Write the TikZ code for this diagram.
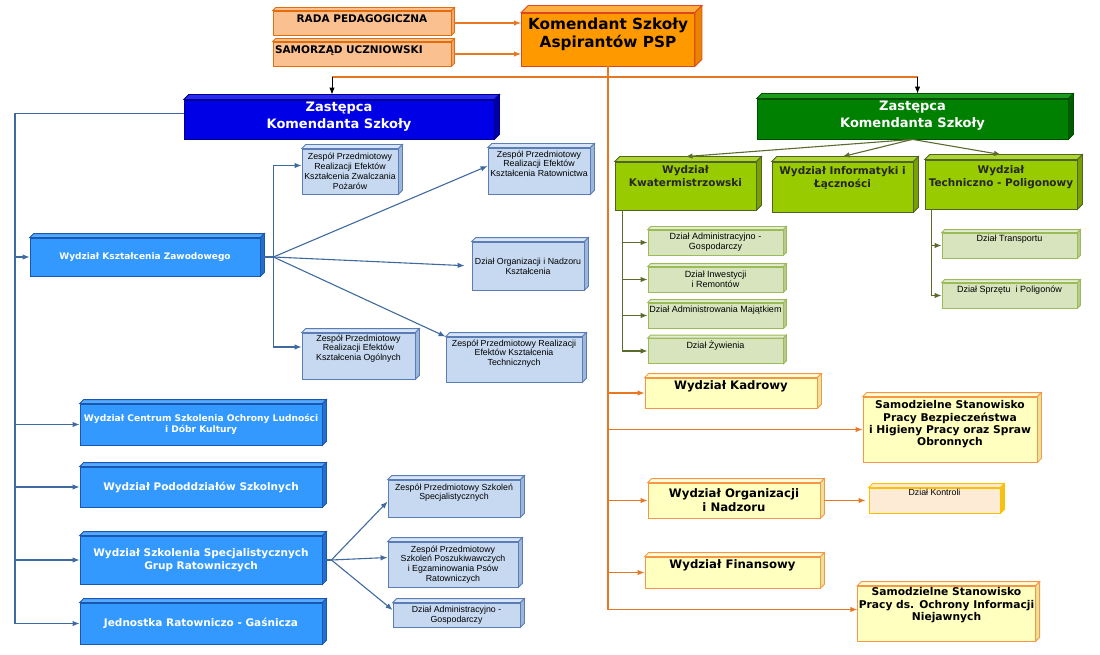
\documentclass[tikz,border=0pt]{standalone}
\usepackage{fontspec}
\setmainfont{DejaVu Sans}
\newfontfamily\opis{Liberation Sans}
\usetikzlibrary{arrows.meta}

\definecolor{pomFill}{HTML}{FF9900}
\definecolor{pomTop}{HTML}{FFAE40}
\definecolor{pomSide}{HTML}{E88400}
\definecolor{pomEdge}{HTML}{E0461E}
\definecolor{radaFill}{HTML}{FAC090}
\definecolor{radaSide}{HTML}{F2A66E}
\definecolor{radaEdge}{HTML}{E46C0A}
\definecolor{granFill}{HTML}{0000E6}
\definecolor{granTop}{HTML}{2A2AF2}
\definecolor{granSide}{HTML}{0000A8}
\definecolor{granEdge}{HTML}{00008C}
\definecolor{niebFill}{HTML}{3399FF}
\definecolor{niebTop}{HTML}{55AAFF}
\definecolor{niebSide}{HTML}{2270D2}
\definecolor{niebEdge}{HTML}{1A58B0}
\definecolor{jnFill}{HTML}{C6D9F1}
\definecolor{jnTop}{HTML}{D8E5F6}
\definecolor{jnSide}{HTML}{9DB7DC}
\definecolor{jnEdge}{HTML}{5B7DB5}
\definecolor{zielFill}{HTML}{008000}
\definecolor{zielTop}{HTML}{1E9A1E}
\definecolor{zielSide}{HTML}{005C00}
\definecolor{zielEdge}{HTML}{005000}
\definecolor{zjFill}{HTML}{99CC00}
\definecolor{zjTop}{HTML}{AED62E}
\definecolor{zjSide}{HTML}{77A000}
\definecolor{zjEdge}{HTML}{4F6228}
\definecolor{zsFill}{HTML}{D7E4BD}
\definecolor{zsTop}{HTML}{E4EDD0}
\definecolor{zsSide}{HTML}{B8CB8C}
\definecolor{zsEdge}{HTML}{9BBB59}
\definecolor{zoFill}{HTML}{FFFFC0}
\definecolor{zoTop}{HTML}{FFFFD8}
\definecolor{zoSide}{HTML}{E8E29A}
\definecolor{zoEdge}{HTML}{F79646}
\definecolor{kFill}{HTML}{FDEBD6}
\definecolor{kSide}{HTML}{F2C21A}
\definecolor{kEdge}{HTML}{FFC000}
\definecolor{linNieb}{HTML}{3F6AA0}
\definecolor{linOr}{HTML}{E87722}
\definecolor{linZiel}{HTML}{5B6B2D}

% boki bryly: wezel, glebokosc, gora, bok, krawedz
\newcommand{\bok}[5]{%
  \filldraw[fill=#3,draw=#5,line width=0.8pt] (#1.north west) -- ++(#2,#2) -- ([shift={(#2,#2)}]#1.north east) -- (#1.north east) -- cycle;
  \filldraw[fill=#4,draw=#5,line width=0.8pt] (#1.north east) -- ++(#2,#2) -- ([shift={(#2,#2)}]#1.south east) -- (#1.south east) -- cycle;}

\tikzset{
  kloc/.style={draw, line width=0.8pt, inner sep=1pt, align=center},
  wym/.style 2 args={minimum width=#1, minimum height=#2},
  lift/.style={text depth=#1},
  rada/.style={kloc, fill=radaFill, draw=radaEdge, font=\bfseries\fontsize{10.5}{12}\selectfont},
  szef/.style={kloc, fill=pomFill, draw=pomEdge, font=\bfseries\fontsize{15.3}{18}\selectfont},
  zastL/.style={kloc, fill=granFill, draw=granEdge, text=white, font=\bfseries\fontsize{13}{17}\selectfont},
  zastP/.style={kloc, fill=zielFill, draw=zielEdge, text=white, font=\bfseries\fontsize{13}{17}\selectfont},
  wydzN/.style={kloc, fill=niebFill, draw=niebEdge, text=white, font=\bfseries\fontsize{10.5}{12.7}\selectfont},
  zespN/.style={kloc, fill=jnFill, draw=jnEdge, font=\opis\fontsize{8.8}{9.8}\selectfont},
  wydzZ/.style={kloc, fill=zjFill, draw=zjEdge, text=black!85, font=\bfseries\fontsize{10.5}{12.7}\selectfont},
  dzialZ/.style={kloc, fill=zsFill, draw=zsEdge, font=\opis\fontsize{9}{10}\selectfont},
  wydzO/.style={kloc, fill=zoFill, draw=zoEdge, font=\bfseries\fontsize{11.7}{14}\selectfont},
  samO/.style={kloc, fill=zoFill, draw=zoEdge, font=\bfseries\fontsize{10.7}{12.4}\selectfont},
  kontrola/.style={kloc, fill=kFill, draw=kEdge, font=\opis\fontsize{8.8}{10}\selectfont}
}

\begin{document}
\begin{tikzpicture}[x=1pt,y=-1pt,
    oline/.style={draw=linOr, line width=1.3pt},
    oarr/.style={oline, -{Latex[length=7pt,width=5.5pt]}},
    bline/.style={draw=linNieb, line width=1.1pt},
    barr/.style={bline, -{Latex[length=7pt,width=5.5pt]}},
    garr/.style={draw=linZiel, line width=1.1pt, -{Latex[length=7pt,width=5.5pt]}},
    karr/.style={draw=black, line width=0.9pt, -{Latex[length=7pt,width=5.5pt]}}]
\useasboundingbox (0,0) rectangle (1100,655);

% gora
\node[rada, wym={178}{24}, lift=8.5pt] (rada) at (362,23) {RADA PEDAGOGICZNA};
\node[rada, wym={178}{24}, lift=8.5pt, text width=174pt, align=left] (samorzad) at (362,54) {SAMORZĄD UCZNIOWSKI};
\node[szef, wym={173}{53}, lift=13.5pt] (kom) at (608,39.5) {Komendant Szkoły\\Aspirantów PSP};
\bok{rada}{3pt}{radaFill}{radaSide}{radaEdge}
\bok{samorzad}{3pt}{radaFill}{radaSide}{radaEdge}
\bok{kom}{7pt}{pomTop}{pomSide}{pomEdge}

\node[zastL, wym={310}{39}, lift=8.5pt] (zl) at (339,119.5) {Zastępca\\Komendanta Szkoły};
\node[zastP, wym={311}{40}, lift=8.5pt] (zp) at (912.5,119) {Zastępca\\Komendanta Szkoły};
\bok{zl}{5pt}{granTop}{granSide}{granEdge}
\bok{zp}{5pt}{zielTop}{zielSide}{zielEdge}

% lewa strona
\node[wydzN, wym={230}{38}, font=\bfseries\fontsize{9}{11}\selectfont] (kzaw) at (145,257) {Wydział Kształcenia Zawodowego};
\node[wydzN, wym={242}{41}, font=\bfseries\fontsize{9.1}{10.6}\selectfont] (centrum) at (201,424.5) {Wydział Centrum Szkolenia Ochrony Ludności\\i Dóbr Kultury};
\node[wydzN, wym={242}{40}] (pododdz) at (201,487) {Wydział Pododdziałów Szkolnych};
\node[wydzN, wym={242}{48}] (specjal) at (201,560) {Wydział Szkolenia Specjalistycznych\\Grup Ratowniczych};
\node[wydzN, wym={242}{41}] (jrg) at (201,623.5) {Jednostka Ratowniczo - Gaśnicza};
\foreach \n in {kzaw,centrum,pododdz,specjal,jrg}
  {\bok{\n}{4pt}{niebTop}{niebSide}{niebEdge}}

\node[zespN, wym={96}{45}] (pozary) at (350,171.5) {Zespół Przedmiotowy\\Realizacji Efektów\\Kształcenia Zwalczania\\Pożarów};
\node[zespN, wym={102}{46}, lift=14.5pt] (ratown) at (539,171) {Zespół Przedmiotowy\\Realizacji Efektów\\Kształcenia Ratownictwa};
\node[zespN, wym={112}{48}] (nadzorK) at (528,266) {Dział Organizacji i Nadzoru\\Kształcenia};
\node[zespN, wym={113}{46}, lift=16.5pt] (ogolne) at (358.5,356) {Zespół Przedmiotowy\\Realizacji Efektów\\Kształcenia Ogólnych};
\node[zespN, wym={136}{45}, lift=13.5pt] (technicz) at (514,359.5) {Zespół Przedmiotowy Realizacji\\Efektów Kształcenia\\Technicznych};
\node[zespN, wym={132}{37}, lift=13.5pt] (szkolSp) at (454,498.5) {Zespół Przedmiotowy Szkoleń\\Specjalistycznych};
\node[zespN, wym={130}{45}] (psy) at (453,564.5) {Zespół Przedmiotowy\\Szkoleń Poszukiwawczych\\i Egzaminowania Psów\\Ratowniczych};
\node[zespN, wym={127}{24}] (admGosL) at (456.5,615) {Dział Administracyjno -\\Gospodarczy};
\foreach \n in {pozary,ratown,nadzorK,ogolne,technicz,szkolSp,psy,admGosL}
  {\bok{\n}{4pt}{jnTop}{jnSide}{jnEdge}}

% prawa strona
\node[wydzZ, wym={141}{48}, lift=20.5pt] (kwater) at (685.5,186) {Wydział\\Kwatermistrzowski};
\node[wydzZ, wym={141}{50}, lift=19.5pt] (inform) at (842.5,187) {Wydział Informatyki i\\Łączności};
\node[wydzZ, wym={152}{49}, lift=17.5pt] (poligon) at (1001,184.5) {Wydział\\Techniczno - Poligonowy};
\foreach \n in {kwater,inform,poligon}
  {\bok{\n}{5pt}{zjTop}{zjSide}{zjEdge}}

\node[dzialZ, wym={135}{25}] (admGos) at (715.5,242.5) {Dział Administracyjno -\\Gospodarczy};
\node[dzialZ, wym={135}{25}] (inwest) at (715.5,279.5) {Dział Inwestycji\\i Remontów};
\node[dzialZ, wym={135}{25}, lift=12.5pt] (majatek) at (715.5,315.5) {Dział Administrowania Majątkiem};
\node[dzialZ, wym={135}{25}, lift=12.5pt] (zywienie) at (715.5,351) {Dział Żywienia};
\node[dzialZ, wym={135}{25}, lift=15.5pt] (transport) at (1009.5,245.5) {Dział Transportu};
\node[dzialZ, wym={135}{25}, lift=13.5pt] (sprzet) at (1009.5,295.5) {Dział Sprzętu\ \ i Poligonów};
\foreach \n in {admGos,inwest,majatek,zywienie,transport,sprzet}
  {\bok{\n}{3pt}{zsTop}{zsSide}{zsEdge}}

\node[wydzO, wym={172}{30}, lift=16.5pt] (kadry) at (731,393) {Wydział Kadrowy};
\node[samO, wym={174}{65}, lift=12.5pt] (bhp) at (950,429.5) {Samodzielne Stanowisko\\Pracy Bezpieczeństwa\\i Higieny Pracy oraz Spraw\\Obronnych};
\node[wydzO, wym={172}{35}] (orgNadz) at (734,500.5) {Wydział Organizacji\\i Nadzoru};
\node[kontrola, wym={131}{25}, lift=15.5pt] (kontrola) at (934.5,500.5) {Dział Kontroli};
\node[wydzO, wym={175}{31}, lift=17.5pt] (finanse) at (732.5,572.5) {Wydział Finansowy};
\node[samO, wym={177}{55}, lift=18.5pt] (niejawne) at (946.5,613.5) {Samodzielne Stanowisko\\Pracy ds. Ochrony Informacji\\Niejawnych};
\foreach \n in {kadry,bhp,orgNadz,finanse,niejawne}
  {\bok{\n}{4pt}{zoTop}{zoSide}{zoEdge}}
\bok{kontrola}{4pt}{kFill}{kSide}{kEdge}

% polaczenia - komendant
\draw[oarr] ([xshift=3pt]rada.east) -- (rada -| kom.west);
\draw[oarr] ([xshift=3pt]samorzad.east) -- (samorzad -| kom.west);
\coordinate (hb) at (608,77);
\coordinate (ob) at (kom.south |- niejawne.west);
\draw[oline] (kom.south) -- ([yshift=4pt]ob);
\draw[oline] ([xshift=-7pt]hb -| zl) -- ([xshift=5pt]hb -| zp);
\draw[karr] ([xshift=-7pt]hb -| zl) -- ([shift={(-7pt,5pt)}]zl.north);
\draw[karr] ([xshift=5pt]hb -| zp) -- ([shift={(5pt,5pt)}]zp.north);
\draw[oarr] (kom.south |- kadry) -- (kadry);
\draw[oarr] (kom.south |- bhp) -- (bhp);
\draw[oarr] (kom.south |- orgNadz) -- (orgNadz);
\draw[oarr] (kom.south |- finanse) -- (finanse);
\draw[oarr] ([yshift=4pt]ob) -- ([yshift=4pt]niejawne.west);
\draw[oarr, shorten >=3pt] ([xshift=4pt]orgNadz.east) -- (kontrola.west);

% polaczenia - lewa
\coordinate (lbus) at (15,624);
\draw[bline] ([yshift=6pt]zl.west) -| (lbus);
\foreach \n in {kzaw,centrum,pododdz,specjal,jrg}
  {\draw[barr] (lbus |- \n) -- (\n);}
\coordinate (kzf) at ([xshift=13pt]kzaw.east);
\draw[bline] ([xshift=4pt]kzaw.east) -- (kzf);
\draw[barr] (kzf) |- ([yshift=6pt]pozary.west);
\draw[barr] (kzf) |- ([yshift=9pt]ogolne.west);
\draw[barr] (kzf) -- ([yshift=5pt]ratown.west);
\draw[barr, shorten >=7pt] (kzf) -- (nadzorK.west);
\draw[barr] (kzf) -- (technicz.north west);
\coordinate (sf) at ([xshift=9pt]specjal.east);
\draw[bline] ([xshift=4pt]specjal.east) -- (sf);
\draw[barr] (sf) -- ([yshift=-3pt]szkolSp.west);
\draw[barr] (sf) -- ([yshift=7pt]psy.west);
\draw[barr] (sf) -- ([yshift=5pt]admGosL.west);

% polaczenia - prawa
\draw[garr] (zp.south) -- ([yshift=5pt]kwater.north);
\draw[garr] (zp.south) -- ([yshift=5pt]inform.north);
\draw[garr] (zp.south) -- ([yshift=5pt]poligon.north);
\coordinate (kwl) at ([xshift=8pt]kwater.south west);
\foreach \n in {admGos,inwest,majatek,zywienie}
  {\draw[garr] (kwl) |- (\n);}
\coordinate (tpl) at ([xshift=7pt]poligon.south west);
\foreach \n in {transport,sprzet}
  {\draw[garr] (tpl) |- (\n);}
\end{tikzpicture}
\end{document}
